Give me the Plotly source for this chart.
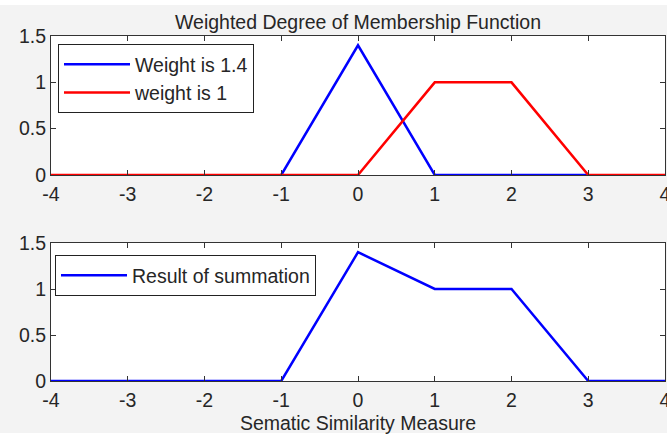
import plotly.graph_objects as go
from plotly.subplots import make_subplots

# Membership functions
w14_x = [-1, 0, 1, 3]
w14_y = [0, 1.4, 0, 0]
w1_x = [-4, 0, 1, 2, 3, 4]
w1_y = [0, 0, 1, 1, 0, 0]
sum_x = [-4, -1, 0, 1, 2, 3, 4]
sum_y = [0, 0, 1.4, 1, 1, 0, 0]

x_ticks = [-4, -3, -2, -1, 0, 1, 2, 3, 4]
x_tick_text = ["-4", "-3", "-2", "-1", "0", "1", "2", "3", "4"]
y_ticks = [0, 0.5, 1, 1.5]
y_tick_text = ["0", "0.5", "1", "1.5"]

W, H = 667, 436
ML, MR, MT, MB = 51, 2, 36, 55
plot_h = H - MT - MB
FONT = "Liberation Sans, Arial, sans-serif"
INK = "#262626"
FS = 19.5

fig = make_subplots(rows=2, cols=1, vertical_spacing=0.0)

fig.add_trace(go.Scatter(x=w14_x, y=w14_y, mode="lines", name="Weight is 1.4",
                         line=dict(color="#0000ff", width=2.5), legend="legend"), row=1, col=1)
fig.add_trace(go.Scatter(x=w1_x, y=w1_y, mode="lines", name="weight is 1",
                         line=dict(color="#ff0000", width=2.5), legend="legend"), row=1, col=1)
fig.add_trace(go.Scatter(x=sum_x, y=sum_y, mode="lines", name="Result of summation",
                         line=dict(color="#0000ff", width=2.5), legend="legend2"), row=2, col=1)

axis_common = dict(
    showline=True, linecolor="#333333", linewidth=1, mirror="ticks",
    ticks="inside", ticklen=5, tickcolor="#333333", showgrid=False, zeroline=False,
    tickfont=dict(family=FONT, size=FS, color=INK), automargin=False,
)

top_dom = [(H - MB - 175) / plot_h, 1.0]
bot_dom = [0.0, (H - MB - 243) / plot_h]

fig.update_xaxes(range=[-4, 4], tickvals=x_ticks, ticktext=x_tick_text,
                 ticklabelstandoff=2, ticklabeloverflow="allow", **axis_common)
fig.update_yaxes(range=[0, 1.5], tickvals=y_ticks, ticktext=y_tick_text, **axis_common)
fig.update_yaxes(domain=top_dom, row=1, col=1)
fig.update_yaxes(domain=bot_dom, row=2, col=1)
fig.update_xaxes(row=2, col=1, title=dict(text="Sematic Similarity Measure", standoff=5,
                                         font=dict(family=FONT, size=FS, color=INK)))

legend_style = dict(bgcolor="white", bordercolor="#222222", borderwidth=1,
                    font=dict(family=FONT, size=FS, color=INK),
                    xanchor="left", yanchor="top", tracegroupgap=0, itemwidth=66)

fig.update_layout(
    width=W, height=H,
    margin=dict(l=ML, r=MR, t=MT, b=MB, autoexpand=False),
    paper_bgcolor="#f3f3f3", plot_bgcolor="white",
    title=dict(text="Weighted Degree of Membership Function",
               x=(ML + (W - MR)) / 2 / W, xanchor="center",
               y=1 - 22 / H, yanchor="middle",
               font=dict(family=FONT, size=FS, color=INK)),
    legend=dict(x=(58 - ML) / (W - ML - MR), y=(H - MB - 44) / plot_h, **legend_style),
    legend2=dict(x=(55 - ML) / (W - ML - MR), y=(H - MB - 255) / plot_h, **legend_style),
    shapes=[
        dict(type="rect", xref="paper", yref="paper", layer="below",
             x0=-0.2, x1=1.2, y0=1 + (MT - 5) / plot_h, y1=1 + MT / plot_h + 0.05,
             fillcolor="white", line=dict(width=0)),
        dict(type="rect", xref="paper", yref="paper", layer="below",
             x0=-0.2, x1=1.2, y0=-(MB / plot_h) - 0.05, y1=-(MB - 3) / plot_h,
             fillcolor="white", line=dict(width=0)),
    ],
)

fig.write_html("out.html")
